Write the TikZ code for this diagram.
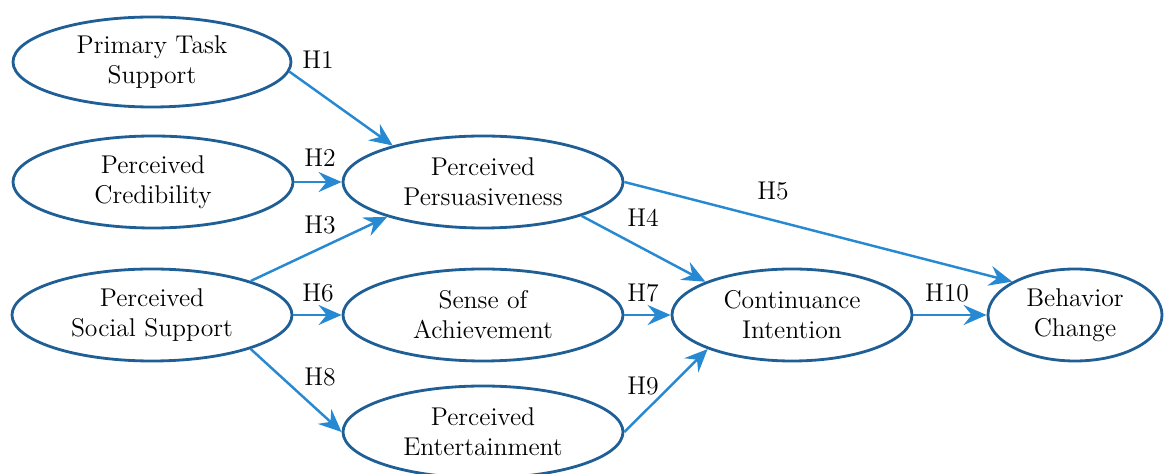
\documentclass[tikz,border=0pt]{standalone}
\usepackage{fontspec}
\usetikzlibrary{shapes.geometric,arrows.meta}
\definecolor{ovalblue}{RGB}{31,95,150}
\definecolor{arrowblue}{RGB}{38,137,210}
\begin{document}
\begin{tikzpicture}[every node/.style={font=\fontsize{14.6}{17}\selectfont, align=center},
  construct/.style={ellipse, draw=ovalblue, line width=1.6pt, inner sep=0pt, minimum width=5.6cm, minimum height=1.84cm},
  link/.style={draw=arrowblue, line width=1.4pt, -{Stealth[length=4.6mm,width=4mm,inset=1.6mm]}}]
\useasboundingbox (0,0) rectangle (23.28,-9.48);
% Left column top to bottom
\node[construct, minimum width=5.56cm, minimum height=1.8cm] (pts) at (3.04,-1.24) {Primary Task\\Support};
\node[construct] (pc) at (3.06,-3.64) {Perceived\\Credibility};
\node[construct] (pss) at (3.04,-6.3) {Perceived\\Social Support};

% Middle column top to bottom
\node[construct] (pp) at (9.66,-3.64) {Perceived\\Persuasiveness};
\node[construct] (sa) at (9.66,-6.3) {Sense of\\Achievement};
\node[construct] (pe) at (9.66,-8.64) {Perceived\\Entertainment};

% Right side
\node[construct, minimum width=4.8cm] (ci) at (15.84,-6.3) {Continuance\\Intention};
\node[construct, minimum width=3.48cm] (bc) at (21.5,-6.3) {Behavior\\Change};

% Hypotheses arrows
\draw[link] (pts.-4) -- (pp.158);
\draw[link] (pc.east) -- (pp.west);
\draw[link] (pss.19) -- (pp.200);
\draw[link] (pss.east) -- (sa.west);
\draw[link] (pss.-19) -- (pe.west);
\draw[link] (pp.-19) -- (ci.159);
\draw[link] (pp.east) -- (bc.152);
\draw[link] (sa.east) -- (ci.west);
\draw[link] (pe.east) -- (ci.202);
\draw[link] (ci.east) -- (bc.west);

% Hypotheses labels
\node (h1) at (6.36,-1.20) {H1};
\node (h2) at (6.40,-3.16) {H2};
\node (h3) at (6.40,-4.50) {H3};
\node (h6) at (6.36,-5.86) {H6};
\node (h8) at (6.40,-7.54) {H8};
\node (h4) at (12.86,-4.36) {H4};
\node (h7) at (12.86,-5.86) {H7};
\node (h9) at (12.86,-7.72) {H9};
\node (h5) at (15.46,-3.82) {H5};
\node (h10) at (18.94,-5.86) {H10};
\end{tikzpicture}
\end{document}
